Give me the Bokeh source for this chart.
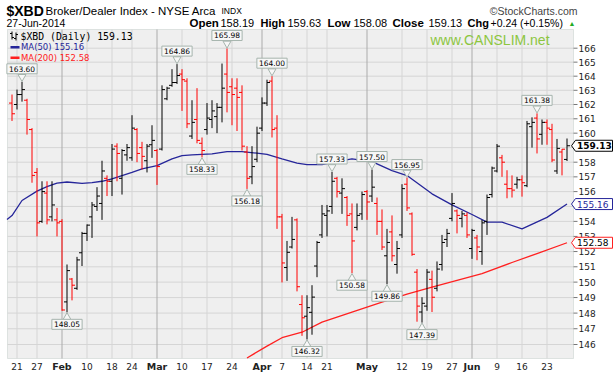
import numpy as np
import pandas as pd
from bokeh.plotting import figure
from bokeh.models import Range1d, Label, BoxAnnotation
from bokeh.embed import file_html
from bokeh.resources import INLINE
from bokeh.core.properties import value

# ---------------- data ----------------
holidays = ["2014-01-20", "2014-02-17", "2014-04-18", "2014-05-26"]
days = pd.bdate_range("2014-01-17", "2014-06-27")
days = days[~days.isin(pd.to_datetime(holidays))]

opens = [162.1, 162.0, 162.7, 162.3, 160.25, 157.3, 154.0, 155.9, 154.3, 154.1,
         154.0, 148.72, 150.2, 149.6, 151.92, 153.2, 154.3, 155.0, 155.2, 156.9,
         156.7, 159.1, 156.9, 158.5, 158.3, 160.25, 159.0, 158.1, 159.2, 158.8,
         158.9, 162.4, 163.35, 163.55, 164.15, 163.65, 159.8, 160.95, 159.3, 160.25,
         160.95, 161.15, 161.8, 164.15, 163.25, 163.15, 162.85, 158.7, 157.0, 158.2,
         160.35, 162.1, 163.65, 160.35, 154.3, 150.95, 152.3, 154.1, 148.55, 147.8,
         148.05, 151.05, 153.1, 154.4, 155.0, 156.9, 155.9, 155.6, 154.5, 153.6,
         154.5, 156.0, 155.7, 155.2, 154.0, 151.72, 153.3, 151.15, 153.1, 156.5,
         154.5, 150.65, 148.07, 148.45, 150.18, 149.6, 151.15, 152.8, 154.2, 154.7,
         154.2, 154.4, 152.2, 152.9, 152.0, 154.0, 155.8, 157.4, 158.3, 156.5,
         156.2, 156.5, 156.8, 156.4, 160.45, 161.05, 159.92, 160.75, 160.25, 157.4,
         158.7, 158.19]
highs = [162.7, 163.05, 163.60, 162.4, 160.35, 157.6, 156.7, 156.7, 156.7, 154.9,
         154.15, 151.15, 150.27, 151.65, 153.3, 153.8, 155.3, 156.3, 158.1, 157.1,
         159.25, 159.3, 158.9, 159.25, 161.25, 160.35, 159.4, 159.25, 160.55, 158.9,
         163.35, 163.25, 164.5, 164.86, 164.5, 163.85, 162.3, 163.15, 159.7, 162.1,
         162.3, 162.1, 164.9, 165.98, 163.85, 163.85, 163.35, 159.1, 159.1, 160.45,
         162.5, 163.75, 164.00, 161.25, 154.5, 152.7, 154.3, 154.2, 149.15, 149.15,
         149.8, 152.7, 155.1, 155.1, 157.33, 157.0, 156.9, 155.7, 155.2, 155.2,
         156.0, 156.1, 157.50, 155.6, 154.8, 153.5, 154.4, 152.7, 156.5, 156.95,
         154.6, 150.85, 149.02, 150.85, 150.75, 151.35, 153.1, 153.5, 155.9, 154.8,
         154.7, 154.6, 153.5, 153.1, 154.1, 155.8, 157.7, 159.25, 158.5, 157.45,
         157.1, 157.0, 157.1, 160.85, 161.1, 161.38, 160.95, 160.95, 160.65, 159.6,
         158.9, 159.63]
lows = [160.85, 161.65, 162.2, 159.9, 156.6, 153.0, 153.9, 153.8, 154.0, 153.0,
        148.15, 148.05, 148.82, 149.5, 151.05, 152.7, 152.9, 154.7, 154.1, 155.7,
        155.7, 156.7, 155.8, 158.1, 158.1, 158.0, 157.5, 157.3, 158.3, 156.45,
        158.8, 162.3, 163.25, 163.45, 161.55, 160.35, 159.6, 159.3, 158.33, 159.9,
        160.35, 160.0, 160.75, 161.45, 160.55, 160.15, 158.8, 156.18, 156.5, 158.0,
        160.15, 161.9, 159.7, 153.5, 149.98, 150.08, 152.2, 149.4, 146.55, 146.32,
        146.62, 150.32, 152.9, 153.0, 154.5, 155.6, 154.5, 153.7, 150.58, 153.4,
        154.1, 154.1, 155.3, 153.1, 152.1, 149.86, 151.35, 150.55, 152.9, 154.7,
        151.72, 147.45, 147.39, 148.15, 148.07, 149.4, 150.75, 152.3, 154.0, 153.2,
        153.6, 152.9, 151.52, 151.43, 151.13, 153.1, 155.6, 157.3, 157.0, 155.55,
        155.6, 156.2, 155.66, 156.3, 159.0, 158.6, 159.2, 159.2, 158.0, 157.2,
        157.1, 158.08]
closes = [161.35, 162.7, 163.05, 160.95, 157.1, 153.9, 156.0, 154.1, 155.1, 153.9,
          148.2, 150.75, 149.8, 151.45, 153.2, 153.75, 155.1, 155.7, 157.4, 156.7,
          158.9, 158.6, 158.8, 159.0, 160.35, 158.6, 158.4, 159.1, 159.5, 157.7,
          163.05, 163.15, 163.55, 164.05, 163.75, 160.65, 160.75, 159.5, 158.8, 161.05,
          161.55, 161.8, 163.15, 162.85, 162.7, 162.5, 159.1, 156.9, 157.7, 160.0,
          162.1, 163.55, 160.25, 154.3, 151.25, 151.95, 152.8, 149.7, 147.7, 148.35,
          149.03, 152.6, 154.5, 154.7, 156.7, 156.0, 156.2, 154.4, 152.7, 154.4,
          155.8, 155.3, 156.3, 154.0, 152.3, 152.6, 151.72, 152.2, 156.2, 154.9,
          151.82, 148.45, 148.63, 150.65, 149.02, 150.85, 152.6, 153.2, 155.2, 154.4,
          154.5, 153.1, 153.4, 152.3, 153.9, 155.6, 157.6, 159.1, 158.0, 156.2,
          156.1, 156.8, 156.6, 160.65, 160.75, 159.6, 160.75, 160.35, 158.15, 158.95,
          158.89, 159.13]
prev_close = 162.0

ma50_pos = [-1, 0, 2, 5, 7, 9, 11, 14, 16, 18, 20, 22, 24, 26, 29, 32, 34, 36, 40,
            43, 46, 49, 51, 54, 57, 59, 62, 66, 68, 72, 76, 79, 84, 88, 92, 95, 98,
            102, 107, 111]
ma50_val = [154.12, 154.39, 155.40, 156.03, 156.34, 156.57, 156.65, 156.55, 156.61,
            156.70, 156.86, 157.09, 157.31, 157.55, 157.77, 158.23, 158.45, 158.50,
            158.57, 158.73, 158.73, 158.62, 158.54, 158.23, 157.93, 157.83, 157.84,
            158.11, 158.23, 158.04, 157.42, 157.09, 155.85, 155.11, 154.46, 153.95,
            153.95, 153.50, 154.27, 155.16]
ma200_pos = [47, 51, 54, 58, 62, 68, 74, 79, 84, 89, 94, 100, 105, 111]
ma200_val = [145.15, 145.90, 146.43, 146.78, 147.42, 148.07, 148.70, 149.22, 149.67,
             150.11, 150.55, 151.28, 151.87, 152.58]

tick_dates = ["2014-01-21", "2014-01-27", "2014-02-03", "2014-02-10", "2014-02-18",
              "2014-02-24", "2014-03-03", "2014-03-10", "2014-03-17", "2014-03-24",
              "2014-04-01", "2014-04-07", "2014-04-14", "2014-04-21", "2014-05-01",
              "2014-05-12", "2014-05-19", "2014-05-27", "2014-06-02", "2014-06-09",
              "2014-06-16", "2014-06-23"]
tick_labels = ["21", "27", "Feb", "10", "18", "24", "Mar", "10", "17", "24", "Apr",
               "7", "14", "21", "May", "12", "19", "27", "Jun", "9", "16", "23"]
month_labels = ["Feb", "Mar", "Apr", "May", "Jun"]
y_ticks = list(range(146, 167))

callout_high = ["2014-01-22", "2014-03-07", "2014-03-21", "2014-04-03", "2014-04-22",
                "2014-05-02", "2014-05-13", "2014-06-19"]
callout_low = ["2014-02-04", "2014-03-14", "2014-03-27", "2014-04-14", "2014-04-28",
               "2014-05-07", "2014-05-16"]

# ---------------- layout helpers (image pixels -> data) ----------------
W, H = 616, 374
X0 = -2.3          # data x at the canvas left edge
PXU = 5.0          # pixels per trading day
LOGK = 2308.0      # pixels per unit of ln(price)


def dx(px):
    return X0 + px / PXU


def py_of(v):
    return 47.7 + LOGK * np.log(166.0 / v)


def dy(py):
    return float(166.0 * np.exp(-(py - 47.7) / LOGK))


A_L, A_R, A_T, A_B = 7, 573, 29, 358   # plot area in pixels


def pos(d):
    return int(np.where(days == pd.Timestamp(d))[0][0])


p = figure(width=W, height=H, output_backend="svg", toolbar_location=None,
           x_range=Range1d(dx(0), dx(W)), y_range=Range1d(dy(H), dy(0)),
           y_axis_type="log", x_axis_location=None, y_axis_location=None,
           min_border=0)
p.background_fill_color = "white"
p.border_fill_color = "white"
p.outline_line_color = None
p.xgrid.visible = False
p.ygrid.visible = False

p.add_layout(BoxAnnotation(left=dx(A_L), right=dx(A_R), bottom=dy(A_B), top=dy(A_T),
                           fill_color="#EFEFEF", fill_alpha=1.0,
                           line_color="#A3B3AB", line_width=1, level="underlay"))

# horizontal grid (price ticks)
p.segment(x0=[dx(A_L)] * len(y_ticks), x1=[dx(A_R)] * len(y_ticks), y0=y_ticks,
          y1=y_ticks, line_color="#D5D5D5", line_width=1)
# vertical grid (date ticks)
tick_pos = [pos(d) for d in tick_dates]
is_month = [lab in month_labels for lab in tick_labels]
p.segment(x0=tick_pos, x1=tick_pos, y0=[dy(A_B)] * len(tick_pos),
          y1=[dy(A_T)] * len(tick_pos),
          line_color=["#ABABAB" if m else "#D5D5D5" for m in is_month], line_width=1)

# right price scale
p.segment(x0=[dx(A_R)] * len(y_ticks), x1=[dx(A_R + 4)] * len(y_ticks), y0=y_ticks,
          y1=y_ticks, line_color="#777777", line_width=1)
p.text(x=[dx(A_R + 5)] * len(y_ticks), y=y_ticks, text=[str(t) for t in y_ticks],
       text_font=value("DejaVu Sans"), text_font_size="9px", text_baseline="middle",
       text_align="left", text_color="#222222")

# date labels
wk = [(t, lab) for t, lab, m in zip(tick_pos, tick_labels, is_month) if not m]
mo = [(t, lab) for t, lab, m in zip(tick_pos, tick_labels, is_month) if m]
p.text(x=[t for t, _ in wk], y=[dy(366)] * len(wk), text=[lab for _, lab in wk],
       text_font=value("DejaVu Sans"), text_font_size="9px", text_align="center",
       text_baseline="middle", text_color="#222222")
p.text(x=[t for t, _ in mo], y=[dy(366)] * len(mo), text=[lab for _, lab in mo],
       text_font=value("DejaVu Sans"), text_font_size="9.5px",
       text_font_style="bold", text_align="center", text_baseline="middle",
       text_color="#222222")

# moving averages
NAVY = "#26269A"
RED = "#FF2020"
p.line(ma50_pos, ma50_val, line_color=NAVY, line_width=1.3)
p.line(ma200_pos, ma200_val, line_color=RED, line_width=1.3)

# OHLC bars
idx = np.arange(len(closes))
prev = np.r_[prev_close, closes[:-1]]
cols = list(np.where(np.array(closes) >= prev, "#000000", "#FF0000"))
p.segment(x0=idx, y0=lows, x1=idx, y1=highs, line_color=cols, line_width=1)
p.segment(x0=idx - 0.6, y0=opens, x1=idx, y1=opens, line_color=cols, line_width=1)
p.segment(x0=idx, y0=closes, x1=idx + 0.6, y1=closes, line_color=cols, line_width=1)

# callouts for swing highs / lows
BOXF = "#F7F7F7"
BOXL = "#A6B4AD"
hx = [pos(d) for d in callout_high]
hy = [highs[i] for i in hx]
lx = [pos(d) for d in callout_low]
ly = [lows[i] for i in lx]
p.scatter(hx, [dy(py_of(v) - 5) for v in hy], marker="inverted_triangle", size=8,
          fill_color=BOXF, line_color=BOXL)
p.scatter(lx, [dy(py_of(v) + 5) for v in ly], marker="triangle", size=8,
          fill_color=BOXF, line_color=BOXL)
for i, v in zip(hx, hy):
    p.add_layout(Label(x=i, y=v, y_offset=13, text=f"{v:.2f}", text_align="center",
                       text_baseline="middle", text_font="DejaVu Sans",
                       text_font_size="7.5px", text_color="black",
                       background_fill_color=BOXF, border_line_color=BOXL,
                       padding=2))
for i, v in zip(lx, ly):
    p.add_layout(Label(x=i, y=v, y_offset=-12, text=f"{v:.2f}", text_align="center",
                       text_baseline="middle", text_font="DejaVu Sans",
                       text_font_size="7.5px", text_color="black",
                       background_fill_color=BOXF, border_line_color=BOXL,
                       padding=2))

# value tags on the price scale
last_close = closes[-1]
tags = [(last_close, "#000000", "black", "bold"), (ma50_val[-1], NAVY, NAVY, "normal"),
        (ma200_val[-1], RED, "black", "normal")]
for v, lc, tc, st in tags:
    yc = py_of(v)
    xs = [dx(571), dx(575), dx(612), dx(612), dx(575)]
    ys = [v, dy(yc - 5.5), dy(yc - 5.5), dy(yc + 5.5), dy(yc + 5.5)]
    p.patch(xs, ys, fill_color="white", line_color=lc, line_width=1)
    p.text(x=[dx(576.5)], y=[v], text=[f"{v:.2f}"], text_font=value("DejaVu Sans"),
           text_font_size="9px", text_font_style=st, text_baseline="middle",
           text_align="left", text_color=tc)

# legend (top-left inside)
icon_x = [dx(11.5), dx(15.5)]
p.segment(x0=icon_x, x1=icon_x, y0=[dy(39), dy(40)], y1=[dy(31), dy(32)],
          line_color="black", line_width=1)
p.segment(x0=[dx(9.5), dx(13.5)], x1=icon_x, y0=[dy(33), dy(38)], y1=[dy(33), dy(38)],
          line_color="black", line_width=1)
p.segment(x0=icon_x, x1=[dx(13.5), dx(17.5)], y0=[dy(37), dy(34)], y1=[dy(37), dy(34)],
          line_color="black", line_width=1)
p.add_layout(Label(x=dx(20), y=dy(35.5), text=f"$XBD (Daily) {last_close:.2f}",
                   text_baseline="middle", text_font="DejaVu Sans Mono",
                   text_font_size="9.8px", text_color="black"))
p.segment(x0=[dx(10), dx(10)], x1=[dx(19), dx(19)], y0=[dy(46.7), dy(57.3)],
          y1=[dy(46.7), dy(57.3)], line_color=[NAVY, RED], line_width=2.5)
p.add_layout(Label(x=dx(20.5), y=dy(46.7), text=f"MA(50) {ma50_val[-1]:.2f}",
                   text_baseline="middle", text_font="DejaVu Sans",
                   text_font_size="8.5px", text_color=NAVY))
p.add_layout(Label(x=dx(20.5), y=dy(57.3), text=f"MA(200) {ma200_val[-1]:.2f}",
                   text_baseline="middle", text_font="DejaVu Sans",
                   text_font_size="8.5px", text_color=RED))

p.add_layout(Label(x=dx(430), y=dy(39), text="www.CANSLIM.net", text_baseline="middle",
                   text_font="Liberation Sans", text_font_size="14px",
                   text_color="#8DC63F"))


# header
def hdr(px, py, text, size="11px", bold=False, color="black", align="left"):
    p.add_layout(Label(x=dx(px), y=dy(py), text=text, text_align=align,
                       text_baseline="middle", text_font="Liberation Sans",
                       text_font_size=size,
                       text_font_style="bold" if bold else "normal",
                       text_color=color))


chg = closes[-1] - closes[-2]
hdr(6, 10, "$XBD", "14px", True)
hdr(45, 10, "Broker/Dealer Index - NYSE Arca", "11.5px")
hdr(221, 10.5, "INDX", "8.5px")
hdr(577, 10, "©StockCharts.com", "10.5px", color="#444444", align="right")
hdr(6, 22.7, days[-1].strftime("%d-%b-%Y"), "10.5px")
hdr(189, 22.7, "Open", "11.5px", True)
hdr(220, 22.7, f"{opens[-1]:.2f}", "11px")
hdr(260, 22.7, "High", "11px", True)
hdr(287, 22.7, f"{highs[-1]:.2f}", "11px")
hdr(327, 22.7, "Low", "11.5px", True)
hdr(353, 22.7, f"{lows[-1]:.2f}", "11px")
hdr(392, 22.7, "Close", "11.5px", True)
hdr(428, 22.7, f"{closes[-1]:.2f}", "11px")
hdr(467, 22.7, "Chg", "11px", True)
hdr(490, 22.7, f"{chg:+.2f} ({chg / closes[-2] * 100:+.2f}%)", "10.5px")
hdr(568, 22.7, "▲", "7px", color="#22AA22")

open("out.html", "w").write(file_html(p, INLINE))
